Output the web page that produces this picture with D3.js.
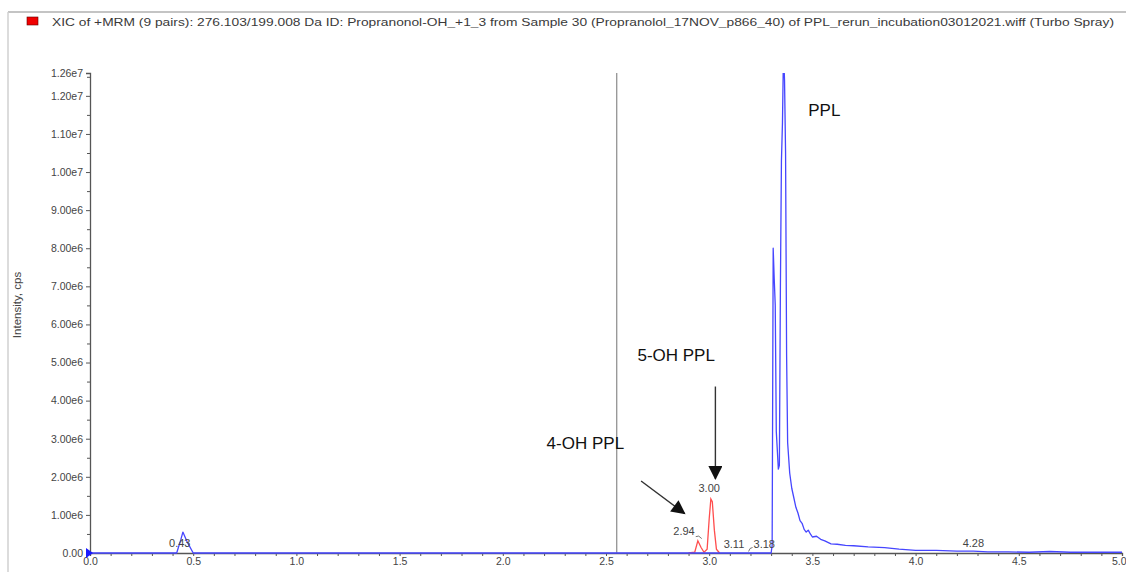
<!DOCTYPE html>
<html>
<head>
<meta charset="utf-8">
<script src="https://cdn.jsdelivr.net/npm/d3@7"></script>
<style>
  body { margin: 0; background: #fff; }
  text { font-family: Arial, "Liberation Sans", sans-serif; }
</style>
</head>
<body>
<svg id="mainFrame"></svg>
<script>
// chromatogram traces (time in min, intensity in cps)
const blueTime = [0.00, 0.40, 0.42, 0.44, 0.45, 0.47, 0.50, 3.30, 3.305, 3.31, 3.315, 3.32, 3.325, 3.335, 3.34,
    3.345, 3.35, 3.355, 3.36, 3.365, 3.37, 3.375, 3.38, 3.39, 3.40, 3.41, 3.42, 3.43, 3.44, 3.45, 3.46, 3.47,
    3.48, 3.49, 3.50, 3.52, 3.54, 3.56, 3.59, 3.62, 3.66, 3.70, 3.77, 3.85, 3.92, 4.00, 4.10, 4.20, 4.28,
    4.35, 4.45, 4.55, 4.65, 4.75, 4.90, 5.00];
const blueIntensity = [0, 0, 0, 3.5e5, 5.5e5, 3.0e5, 0, 0, 2.0e5, 8.0e6, 7.2e6, 6.5e6, 3.2e6, 2.2e6, 2.3e6,
    7.0e6, 1.03e7, 1.13e7, 1.32e7, 1.24e7, 1.05e7, 5.2e6, 2.9e6, 2.1e6, 1.7e6, 1.45e6, 1.2e6, 1.05e6, 0.85e6,
    0.78e6, 0.62e6, 0.55e6, 0.6e6, 0.5e6, 0.42e6, 0.44e6, 0.36e6, 0.32e6, 0.24e6, 0.23e6, 0.20e6, 0.19e6,
    0.16e6, 0.14e6, 0.10e6, 0.07e6, 0.07e6, 0.05e6, 0.05e6, 0.03e6, 0.03e6, 0.02e6, 0.04e6, 0.02e6, 0.02e6, 0.02e6];

const redTime = [2.90, 2.93, 2.945, 2.96, 2.975, 2.99, 3.00, 3.008, 3.015, 3.025, 3.035, 3.05];
const redIntensity = [0, 0.02e6, 0.32e6, 0.15e6, 0.02e6, 0.1e6, 0.9e6, 1.42e6, 1.35e6, 0.6e6, 0.1e6, 0];

// peak labels printed by the software
const peakLabels = [
    { t: 0.435, y: 1.6e5, text: '0.43', anchor: 'middle' },
    { t: 2.93, y: 4.6e5, text: '2.94', anchor: 'end' },
    { t: 3.00, y: 1.6e6, text: '3.00', anchor: 'middle' },
    { t: 3.12, y: 1.2e5, text: '3.11', anchor: 'middle' },
    { t: 3.215, y: 1.2e5, text: '3.18', anchor: 'start' },
    { t: 4.28, y: 1.6e5, text: '4.28', anchor: 'middle' }
];

const yMajorTicks = [0, 1e6, 2e6, 3e6, 4e6, 5e6, 6e6, 7e6, 8e6, 9e6, 1e7, 1.1e7, 1.2e7, 1.26e7];
const xMajorTicks = [0, 0.5, 1.0, 1.5, 2.0, 2.5, 3.0, 3.5, 4.0, 4.5, 5.0];
const markerTime = 2.552;

const title = 'XIC of +MRM (9 pairs): 276.103/199.008 Da ID: Propranonol-OH_+1_3 from Sample 30 (Propranolol_17NOV_p866_40) of PPL_rerun_incubation03012021.wiff (Turbo Spray)';

const width = 1126, height = 572;
const svg = d3.select('#mainFrame')
    .attr('width', width)
    .attr('height', height);

const render = () => {
    const margin = { top: 73, right: 4, bottom: 19, left: 90 };
    const innerWidth = width - margin.left - margin.right;
    const innerHeight = height - margin.top - margin.bottom;

    const xScale = d3.scaleLinear().domain([0, 5]).range([0, innerWidth]);
    const yScale = d3.scaleLinear().domain([0, 1.26e7]).range([innerHeight, 0]);

    // frame of the pane
    svg.append('line').attr('x1', 8).attr('x2', width).attr('y1', 12).attr('y2', 12)
        .attr('stroke', '#c4c4c4').attr('stroke-width', 2);
    svg.append('line').attr('x1', 8).attr('x2', 8).attr('y1', 12).attr('y2', height)
        .attr('stroke', '#d0d0d0').attr('stroke-width', 1.5);

    // title with red legend swatch
    svg.append('rect').attr('x', 27).attr('y', 17).attr('width', 11).attr('height', 8)
        .attr('fill', '#f00000').attr('stroke', '#600').attr('stroke-width', 0.6);
    svg.append('text').text(title)
        .attr('x', 52).attr('y', 25.5)
        .attr('font-size', 11)
        .attr('fill', '#3a3a3a')
        .attr('textLength', 1062)
        .attr('lengthAdjust', 'spacingAndGlyphs');

    const defs = svg.append('defs');
    defs.append('clipPath').attr('id', 'plotClip')
        .append('rect').attr('x', 0).attr('y', 0).attr('width', innerWidth).attr('height', innerHeight + 1);
    defs.append('marker').attr('id', 'arrowHead')
        .attr('viewBox', '0 0 10 10').attr('refX', 9).attr('refY', 5)
        .attr('markerUnits', 'userSpaceOnUse')
        .attr('markerWidth', 15).attr('markerHeight', 14)
        .attr('orient', 'auto')
        .append('path').attr('d', 'M0,0 L10,5 L0,10 Z').attr('fill', '#111');

    const g = svg.append('g')
        .attr('transform', `translate(${margin.left},${margin.top})`);

    // y axis: major and minor ticks
    const yFormat = v => v === 0 ? '0.00' : d3.format('.2e')(v).replace('+', '');
    g.append('g')
        .call(d3.axisLeft(yScale).tickValues(yMajorTicks).tickFormat(yFormat).tickSize(4).tickPadding(3));
    const yMinor = d3.range(5e5, 1.26e7, 1e6);
    g.append('g').call(d3.axisLeft(yScale).tickValues(yMinor).tickFormat('').tickSize(3))
        .select('.domain').remove();

    // x axis
    const xAxisGroup = g.append('g')
        .attr('transform', `translate(0,${innerHeight})`)
        .call(d3.axisBottom(xScale).tickValues(xMajorTicks).tickFormat(d3.format('.1f')).tickSize(3).tickPadding(2));
    xAxisGroup.selectAll('.tick text')
        .filter(d => d === 5)
            .attr('text-anchor', 'end')
            .attr('dx', 4);
    const xMinor = d3.range(0.1, 5, 0.1).filter(v => Math.abs(v * 2 - Math.round(v * 2)) > 0.01);
    g.append('g').attr('transform', `translate(0,${innerHeight})`)
        .call(d3.axisBottom(xScale).tickValues(xMinor).tickFormat('').tickSize(3))
        .select('.domain').remove();

    g.selectAll('.domain').attr('stroke', '#555').attr('stroke-width', 1.3);
    g.selectAll('.tick line').attr('stroke', '#555');
    g.selectAll('.tick text').attr('fill', '#444').attr('font-size', 10.5)
        .attr('font-family', 'Arial, "Liberation Sans", sans-serif');

    // y axis title
    svg.append('text').text('Intensity, cps')
        .attr('transform', `translate(21,${margin.top + innerHeight / 2 - 8}) rotate(-90)`)
        .attr('text-anchor', 'middle')
        .attr('font-size', 11.5)
        .attr('fill', '#444');

    // gray marker line
    g.append('line')
        .attr('x1', xScale(markerTime)).attr('x2', xScale(markerTime))
        .attr('y1', 0).attr('y2', innerHeight)
        .attr('stroke', '#8a8a8a').attr('stroke-width', 1.2);

    const line = d3.line().x(d => xScale(d[0])).y(d => yScale(d[1]));
    const plot = g.append('g').attr('clip-path', 'url(#plotClip)');

    plot.append('path')
        .datum(d3.zip(redTime, redIntensity))
        .attr('d', line)
        .attr('fill', 'none')
        .attr('stroke', '#ff4d4d')
        .attr('stroke-width', 1.3);

    plot.append('path')
        .datum(d3.zip(blueTime, blueIntensity))
        .attr('d', line)
        .attr('fill', 'none')
        .attr('stroke', '#4646ff')
        .attr('stroke-width', 1.3)
        .attr('stroke-linejoin', 'round');

    // blue start marker at the origin
    g.append('path')
        .attr('d', `M${xScale(0) - 4},${yScale(0) - 5} L${xScale(0) + 3},${yScale(0)} L${xScale(0) - 4},${yScale(0) + 5} Z`)
        .attr('fill', '#1a1aff');

    // peak labels
    g.selectAll('.peakLabel').data(peakLabels)
        .enter().append('text')
            .attr('class', 'peakLabel')
            .text(d => d.text)
            .attr('x', d => xScale(d.t))
            .attr('y', d => yScale(d.y))
            .attr('text-anchor', d => d.anchor)
            .attr('font-size', 11)
            .attr('fill', '#444');

    // small connector marks next to labels
    g.append('path')
        .attr('d', `M${xScale(2.93) + 1},${yScale(4.3e5)} q3,-2 6,2`)
        .attr('fill', 'none').attr('stroke', '#555').attr('stroke-width', 0.8);
    g.append('path')
        .attr('d', `M${xScale(3.215) - 5},${yScale(0.4e5)} q1,-4 4,-4`)
        .attr('fill', 'none').attr('stroke', '#555').attr('stroke-width', 0.8);

    // annotations
    const notes = [
        { t: 3.48, y: 1.147e7, text: 'PPL', anchor: 'start' },
        { t: 2.84, y: 5.03e6, text: '5-OH PPL', anchor: 'middle' },
        { t: 2.40, y: 2.74e6, text: '4-OH PPL', anchor: 'middle' }
    ];
    g.selectAll('.note').data(notes)
        .enter().append('text')
            .attr('class', 'note')
            .text(d => d.text)
            .attr('x', d => xScale(d.t))
            .attr('y', d => yScale(d.y))
            .attr('text-anchor', d => d.anchor)
            .attr('font-size', 17)
            .attr('fill', '#111');

    const arrows = [
        { t1: 3.03, y1: 4.37e6, t2: 3.03, y2: 1.95e6 },
        { t1: 2.67, y1: 1.89e6, t2: 2.88, y2: 1.04e6 }
    ];
    g.selectAll('.arrow').data(arrows)
        .enter().append('line')
            .attr('class', 'arrow')
            .attr('x1', d => xScale(d.t1)).attr('y1', d => yScale(d.y1))
            .attr('x2', d => xScale(d.t2)).attr('y2', d => yScale(d.y2))
            .attr('stroke', '#333')
            .attr('stroke-width', 1.4)
            .attr('marker-end', 'url(#arrowHead)');
};

render();
</script>
</body>
</html>
